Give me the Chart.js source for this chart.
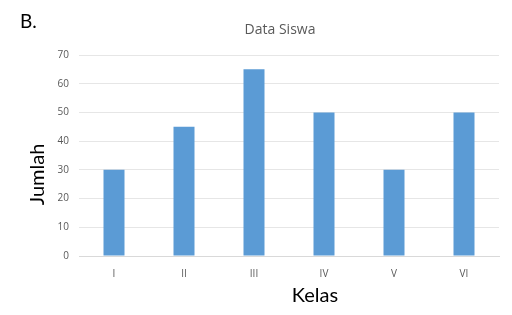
<!DOCTYPE html>
<html>
<head>
<meta charset="utf-8">
<script src="https://cdn.jsdelivr.net/npm/chart.js@4"></script>
<style>
  body { margin: 0; background: #fff; }
  #wrap { position: relative; width: 512px; height: 315px; }
  #label-b { position: absolute; left: 20px; top: 9px; font: 19px Lato, sans-serif; color: #000; }
</style>
</head>
<body>
<div id="wrap">
  <div id="label-b">B.</div>
  <canvas id="siswaChart" width="512" height="315"></canvas>
</div>
<script>
const kelas = ['I', 'II', 'III', 'IV', 'V', 'VI'];
const jumlah = [30, 45, 65, 50, 30, 50];
const judul = 'Data Siswa';
const judulX = 'Kelas';
const judulY = 'Jumlah';

// chart title and axis titles sit a bit off-centre in the original
const chartTexts = {
    id: 'chartTexts',
    afterDraw(chart) {
        const c = chart.ctx;
        const area = chart.chartArea;
        const mid = (area.left + area.right) / 2;
        c.save();
        c.textAlign = 'center';
        c.textBaseline = 'middle';

        c.fillStyle = '#595959';
        c.font = '14px "Open Sans", sans-serif';
        c.fillText(judul, mid - 9, 30);

        c.fillStyle = '#000';
        c.font = '20px Lato, sans-serif';
        c.fillText(judulX, mid + 26, 296);
        c.translate(38, (area.top + area.bottom) / 2 + 19);
        c.rotate(-Math.PI / 2);
        c.fillText(judulY, 0, 0);
        c.restore();
    }
};

const ctx = document.getElementById('siswaChart').getContext('2d');

const siswaChart = new Chart(ctx, {
    type: 'bar',
    data: {
        labels: kelas,
        datasets: [{
            label: judulY,
            data: jumlah,
            backgroundColor: '#5b9bd5',
            barPercentage: 0.3,
            categoryPercentage: 1
        }]
    },
    plugins: [chartTexts],
    options: {
        responsive: false,
        animation: false,
        layout: {
            padding: { left: 0, right: 13, top: 55, bottom: 0 }
        },
        plugins: {
            legend: { display: false },
            tooltip: { enabled: false },
            title: { display: false }
        },
        scales: {
            x: {
                grid: { display: false },
                border: { color: '#d9d9d9' },
                ticks: {
                    color: '#595959',
                    font: { family: 'Open Sans', size: 10 },
                    padding: 4
                },
                afterFit(scale) { scale.height = 59; }
            },
            y: {
                min: 0,
                max: 70,
                ticks: {
                    stepSize: 10,
                    color: '#595959',
                    font: { family: 'Open Sans', size: 10 },
                    padding: 10
                },
                grid: { color: '#e6e6e6', drawTicks: false },
                border: { display: false },
                afterFit(scale) { scale.width = 79; }
            }
        }
    }
});
</script>
</body>
</html>
